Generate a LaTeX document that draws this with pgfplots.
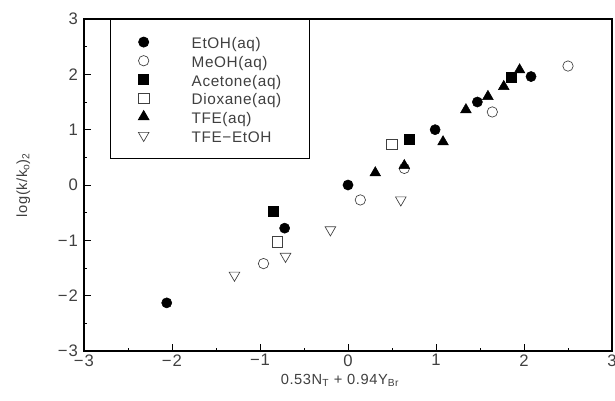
\documentclass[border=0pt]{standalone}
\usepackage{fontspec}
\setmainfont{Liberation Sans}
\newfontfamily\wide[LetterSpace=6]{Liberation Sans}
\newfontfamily\legfont[LetterSpace=4]{Liberation Sans}
\usepackage{pgfplots}
\pgfplotsset{compat=1.18}

\begin{document}
\begin{tikzpicture}
\begin{axis}[
    name=ax,
    scale only axis,
    width=396pt, height=249pt,
    xmin=-3, xmax=3, ymin=-3, ymax=3,
    axis line style={line width=0.8pt},
    xtick={-3,-2,...,3},
    ytick={-3,-2,...,3},
    xticklabels={−3,−2,−1,0,1,2,3},
    yticklabels={−3,−2,−1,0,1,2,3},
    minor tick num=1,
    tick pos=left,
    tick align=inside,
    major tick length=5pt,
    minor tick length=2.5pt,
    tick style={black, line width=0.6pt},
    tick label style={font=\wide\fontsize{12.5}{14}\selectfont, text=black!75},
    xticklabel style={yshift=1pt},
    yticklabel style={xshift=-1pt},
    xlabel={0.53N\textsubscript{T} + 0.94Y\textsubscript{Br}},
    ylabel={log(k/k\textsubscript{o})\textsubscript{2}},
    label style={font=\legfont\fontsize{11}{13}\selectfont, text=black!75},
    xlabel style={yshift=1pt, xshift=-6pt},
    ylabel style={yshift=14pt},
    legend cell align=left,
    legend style={
        at={(rel axis cs:0.0492,1)}, anchor=north west,
        draw=black, line width=0.6pt,
        inner xsep=21pt, inner ysep=10pt,
        font=\legfont\fontsize{11.5}{13}\selectfont,
        text=black!75,
        row sep=0pt,
        nodes={inner sep=0pt, text height=12pt, text depth=2pt},
        /tikz/every odd column/.append style={column sep=32pt},
    },
]
\addplot[only marks, mark=*, mark size=3.8pt, black] coordinates {
    (-2.06,-2.13) (-0.72,-0.78) (0,0) (0.99,1.00) (1.47,1.50) (2.08,1.96)};
\addlegendentry{EtOH(aq)}
\addplot[only marks, mark=o, mark size=3.9pt, black!75, line width=0.5pt] coordinates {
    (-0.96,-1.42) (0.14,-0.27) (0.64,0.30) (1.64,1.32) (2.50,2.15)};
\addlegendentry{MeOH(aq)}
\addplot[only marks, mark=square*, mark size=3.8pt, black] coordinates {
    (-0.85,-0.47) (0.70,0.83) (1.86,1.94)};
\addlegendentry{Acetone(aq)}
\addplot[only marks, mark=square, mark size=3.9pt, black!75, line width=0.5pt] coordinates {
    (-0.80,-1.03) (0.50,0.74)};
\addlegendentry{Dioxane(aq)}
\addplot[only marks, mark=triangle*, mark size=4.6pt, black] coordinates {
    (0.31,0.22) (0.64,0.35) (1.08,0.78) (1.34,1.36) (1.59,1.60) (1.77,1.78) (1.95,2.08)};
\addlegendentry{TFE(aq)}
\addplot[only marks, mark=triangle, mark size=4.6pt, black!75, line width=0.5pt,
    mark options={rotate=180}] coordinates {
    (-1.29,-1.63) (-0.71,-1.29) (-0.20,-0.81) (0.60,-0.27)};
\addlegendentry{TFE−EtOH}
\end{axis}
\pgfresetboundingbox
\path ([shift={(-63pt,-36.75pt)}]ax.south west) rectangle ([shift={(2.25pt,14.25pt)}]ax.north east);
\end{tikzpicture}
\end{document}
